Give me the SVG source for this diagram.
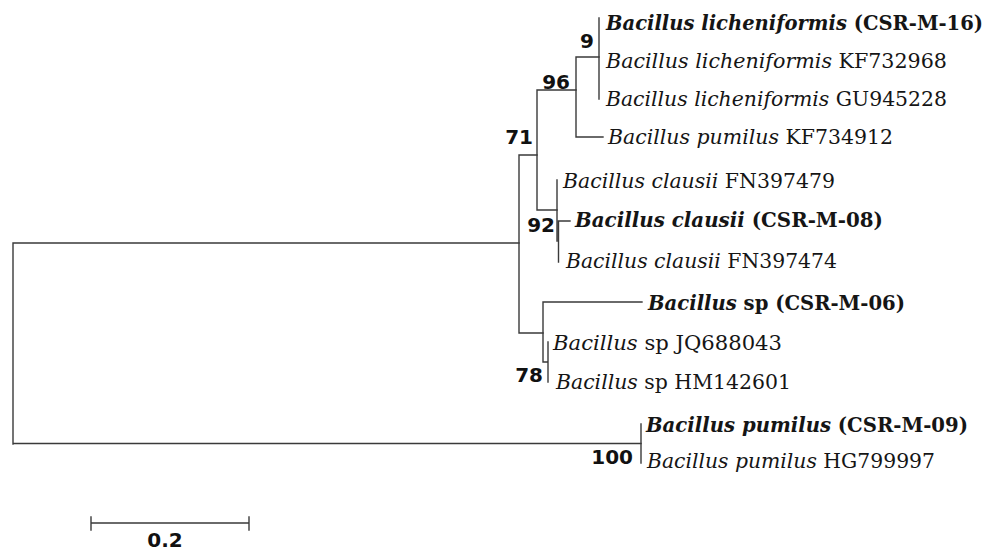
<svg xmlns="http://www.w3.org/2000/svg" width="988" height="551" viewBox="0 0 988 551">
<style>
.tx{font-family:"DejaVu Serif","Liberation Serif",serif;font-size:21px;fill:#151515}
.b{font-weight:bold}
.i{font-style:italic}
.bs{font-family:"DejaVu Sans","Liberation Sans",sans-serif;font-weight:bold;font-size:20px;fill:#111;text-anchor:end}
.ln{stroke:#3a3a3a;stroke-width:1.4;fill:none;stroke-linecap:square}
</style>
<rect width="988" height="551" fill="#fff"/>
<g id="connectors" class="ln">
<path d="M13,243V444M13,243H519M13,443.5H641"/>
<path d="M519,155V333M519,155H537M519,333H543"/>
<path d="M537,90V210M537,90H576M537,210H557"/>
<path d="M576,57V137M576,57H599M576,137H603"/>
<path d="M599,18V99"/>
<path d="M557,180V241M558.5,221V262M558.5,221H570"/>
<path d="M543,302V362M543,302H642M543,362H548M548,342V382"/>
<path d="M641,424V463"/>
</g>
<g id="leaf-lich-csr16"><text class="tx b" x="606" y="30" textLength="377" lengthAdjust="spacingAndGlyphs"><tspan class="i">Bacillus licheniformis</tspan> (CSR-M-16)</text></g>
<g id="leaf-lich-kf732968"><text class="tx" x="606" y="68" textLength="341" lengthAdjust="spacingAndGlyphs"><tspan class="i">Bacillus licheniformis</tspan> KF732968</text></g>
<g id="leaf-lich-gu945228"><text class="tx" x="606" y="106" textLength="341" lengthAdjust="spacingAndGlyphs"><tspan class="i">Bacillus licheniformis</tspan> GU945228</text></g>
<g id="leaf-pum-kf734912"><text class="tx" x="608" y="144" textLength="285" lengthAdjust="spacingAndGlyphs"><tspan class="i">Bacillus pumilus</tspan> KF734912</text></g>
<g id="leaf-cla-fn397479"><text class="tx" x="563" y="188" textLength="272" lengthAdjust="spacingAndGlyphs"><tspan class="i">Bacillus clausii</tspan> FN397479</text></g>
<g id="leaf-cla-csr08"><text class="tx b" x="575" y="227" textLength="308" lengthAdjust="spacingAndGlyphs"><tspan class="i">Bacillus clausii</tspan> (CSR-M-08)</text></g>
<g id="leaf-cla-fn397474"><text class="tx" x="566" y="268" textLength="271" lengthAdjust="spacingAndGlyphs"><tspan class="i">Bacillus clausii</tspan> FN397474</text></g>
<g id="leaf-sp-csr06"><text class="tx b" x="648" y="310" textLength="257" lengthAdjust="spacingAndGlyphs"><tspan class="i">Bacillus</tspan> sp (CSR-M-06)</text></g>
<g id="leaf-sp-jq688043"><text class="tx" x="553" y="350" textLength="229" lengthAdjust="spacingAndGlyphs"><tspan class="i">Bacillus</tspan> sp JQ688043</text></g>
<g id="leaf-sp-hm142601"><text class="tx" x="556" y="389" textLength="235" lengthAdjust="spacingAndGlyphs"><tspan class="i">Bacillus</tspan> sp HM142601</text></g>
<g id="leaf-pum-csr09"><text class="tx b" x="646" y="432" textLength="322" lengthAdjust="spacingAndGlyphs"><tspan class="i">Bacillus pumilus</tspan> (CSR-M-09)</text></g>
<g id="leaf-pum-hg799997"><text class="tx" x="647" y="468" textLength="288" lengthAdjust="spacingAndGlyphs"><tspan class="i">Bacillus pumilus</tspan> HG799997</text></g>
<g id="bootstrap">
<text class="bs" x="594" y="48">9</text>
<text class="bs" x="570" y="89">96</text>
<text class="bs" x="533" y="144">71</text>
<text class="bs" x="555" y="232">92</text>
<text class="bs" x="543" y="382">78</text>
<text class="bs" x="633" y="464">100</text>
</g>
<g id="scale-bar">
<path class="ln" d="M91,523H249M91,517V530M249,517V530"/>
<text class="bs" x="165" y="547" style="text-anchor:middle">0.2</text>
</g>
</svg>
